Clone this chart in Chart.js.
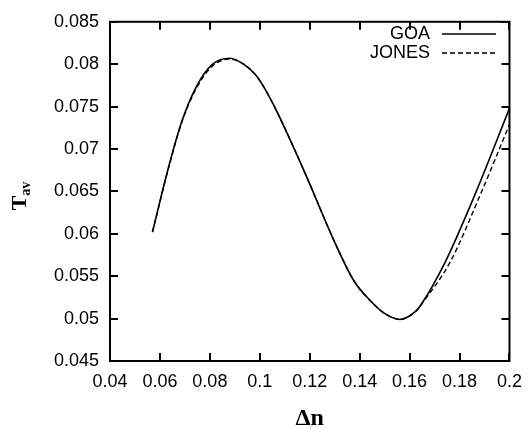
<!DOCTYPE html>
<html>
<head>
<meta charset="utf-8">
<script src="https://cdn.jsdelivr.net/npm/chart.js@4"></script>
<style>
  html, body { margin: 0; padding: 0; background: #fff; }
  #wrap { width: 532px; height: 429px; }
</style>
</head>
<body>
<div id="wrap"><canvas id="chart" width="532" height="429"></canvas></div>
<script>
// Data
const goaDn = [0.057, 0.0635, 0.0687, 0.0745, 0.0811, 0.088, 0.0935, 0.0987, 0.1026, 0.1072, 0.1182, 0.130, 0.1378, 0.1443, 0.1495, 0.1561, 0.1626, 0.1645, 0.1743, 0.1867, 0.2];
const goaT  = [0.0602, 0.0679, 0.0732, 0.0773, 0.0800, 0.0807, 0.0800, 0.0786, 0.0768, 0.0742, 0.0671, 0.0590, 0.0544, 0.0521, 0.0507, 0.0499, 0.0509, 0.0516, 0.0567, 0.0650, 0.0748];
const jonesDn = [0.057, 0.0635, 0.0687, 0.0745, 0.0811, 0.088, 0.0935, 0.0987, 0.1026, 0.1072, 0.1182, 0.130, 0.1378, 0.1443, 0.1495, 0.1561, 0.1626, 0.1645, 0.1763, 0.1880, 0.2];
const jonesT  = [0.0602, 0.0678, 0.0731, 0.0771, 0.0798, 0.0806, 0.0800, 0.0786, 0.0768, 0.0742, 0.0671, 0.0590, 0.0544, 0.0521, 0.0507, 0.0499, 0.0509, 0.0516, 0.0567, 0.0644, 0.0729];
const xTicks = [0.04, 0.06, 0.08, 0.1, 0.12, 0.14, 0.16, 0.18, 0.2];
const yTicks = [0.045, 0.05, 0.055, 0.06, 0.065, 0.07, 0.075, 0.08, 0.085];

const toPoints = (xs, ys) => xs.map((x, i) => ({ x, y: ys[i] }));
const fmt = v => String(Number(v.toFixed(4)));

// Box, inward ticks on all four sides
const framePlugin = {
    id: 'frame',
    afterDraw(chart) {
        const { ctx, chartArea: a, scales } = chart;
        ctx.save();
        ctx.strokeStyle = '#000';
        ctx.lineWidth = 2;
        ctx.strokeRect(a.left, a.top, a.right - a.left, a.bottom - a.top);
        const len = 8;
        ctx.beginPath();
        xTicks.forEach(v => {
            const px = Math.round(scales.x.getPixelForValue(v));
            ctx.moveTo(px, a.bottom); ctx.lineTo(px, a.bottom - len);
            ctx.moveTo(px, a.top); ctx.lineTo(px, a.top + len);
        });
        yTicks.forEach(v => {
            const py = Math.round(scales.y.getPixelForValue(v));
            ctx.moveTo(a.left, py); ctx.lineTo(a.left + len, py);
            ctx.moveTo(a.right, py); ctx.lineTo(a.right - len, py);
        });
        ctx.stroke();

        // Legend, gnuplot style: label right aligned, sample line after it
        ctx.font = '18px "Liberation Sans", Arial, sans-serif';
        ctx.fillStyle = '#000';
        ctx.textAlign = 'right';
        ctx.textBaseline = 'middle';
        chart.data.datasets.forEach((ds, i) => {
            const y = 34 + i * 19;
            ctx.fillText(ds.label, 430, y);
            ctx.lineWidth = 1.5;
            ctx.setLineDash(ds.borderDash || []);
            ctx.beginPath();
            ctx.moveTo(442, y); ctx.lineTo(496, y);
            ctx.stroke();
            ctx.setLineDash([]);
        });

        // Y title: T with subscript av, rotated
        ctx.translate(26, 196);
        ctx.rotate(-Math.PI / 2);
        ctx.textAlign = 'left';
        ctx.textBaseline = 'alphabetic';
        ctx.font = 'bold 22px "Liberation Serif", "Times New Roman", serif';
        const tw = ctx.measureText('T').width;
        ctx.font = 'bold 14px "Liberation Serif", "Times New Roman", serif';
        const sw = ctx.measureText('av').width;
        const start = -(tw + sw) / 2;
        ctx.font = 'bold 22px "Liberation Serif", "Times New Roman", serif';
        ctx.fillText('T', start, 0);
        ctx.font = 'bold 14px "Liberation Serif", "Times New Roman", serif';
        ctx.fillText('av', start + tw, 4);
        ctx.restore();
    }
};

new Chart(document.getElementById('chart').getContext('2d'), {
    type: 'scatter',
    data: {
        datasets: [
            {
                label: 'GOA',
                data: toPoints(goaDn, goaT),
                showLine: true,
                borderColor: '#000',
                borderWidth: 1.6,
                pointRadius: 0,
                cubicInterpolationMode: 'monotone'
            },
            {
                label: 'JONES',
                data: toPoints(jonesDn, jonesT),
                showLine: true,
                borderColor: '#000',
                borderWidth: 1.4,
                borderDash: [5, 3],
                pointRadius: 0,
                cubicInterpolationMode: 'monotone'
            }
        ]
    },
    options: {
        responsive: false,
        animation: false,
        layout: { padding: { left: 0, right: 13, top: 15, bottom: 0 } },
        plugins: { legend: { display: false }, tooltip: { enabled: false } },
        scales: {
            x: {
                type: 'linear',
                min: 0.04,
                max: 0.2,
                afterBuildTicks: s => { s.ticks = xTicks.map(v => ({ value: v })); },
                afterFit: s => { s.height = 68; },
                grid: { display: false, drawTicks: false },
                border: { display: false },
                ticks: {
                    color: '#000',
                    padding: 10,
                    maxRotation: 0,
                    autoSkip: false,
                    font: { family: '"Liberation Sans", Arial, sans-serif', size: 18 },
                    callback: v => fmt(v)
                },
                title: {
                    display: true,
                    text: 'Δn',
                    color: '#000',
                    padding: { top: 13, bottom: -4 },
                    font: { family: '"Liberation Serif", "Times New Roman", serif', size: 24, weight: 'bold' }
                }
            },
            y: {
                type: 'linear',
                min: 0.045,
                max: 0.085,
                afterBuildTicks: s => { s.ticks = yTicks.map(v => ({ value: v })); },
                afterFit: s => { s.width = 110; },
                grid: { display: false, drawTicks: false },
                border: { display: false },
                ticks: {
                    color: '#000',
                    padding: 11,
                    autoSkip: false,
                    font: { family: '"Liberation Sans", Arial, sans-serif', size: 18 },
                    callback: v => fmt(v)
                }
            }
        }
    },
    plugins: [framePlugin]
});
</script>
</body>
</html>
